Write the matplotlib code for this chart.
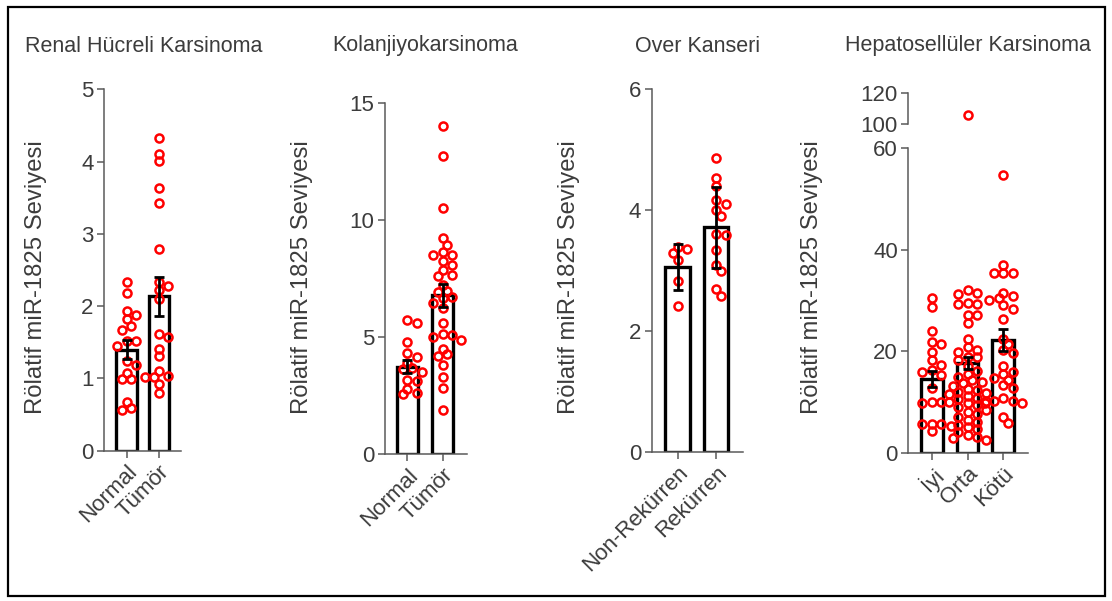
import matplotlib
matplotlib.use("Agg")
import matplotlib.pyplot as plt
import numpy as np
from matplotlib.patches import Rectangle
from matplotlib.ticker import FixedLocator

plt.rcParams['font.family'] = ['Liberation Sans', 'DejaVu Sans']

# --- veri ---
titles = ["Renal Hücreli Karsinoma", "Kolanjiyokarsinoma", "Over Kanseri", "Hepatosellüler Karsinoma"]
ylabel = "Rölatif miR-1825 Seviyesi"

renal_groups = ["Normal", "Tümör"]
renal_normal = [2.33, 2.18, 1.93, 1.88, 1.82, 1.73, 1.67, 1.52, 1.52, 1.45, 1.24, 1.18,
                1.08, 0.99, 0.99, 0.68, 0.56, 0.59]
renal_tumor = [4.33, 4.11, 4.01, 3.63, 3.43, 2.79, 2.34, 2.28, 2.23, 2.10, 1.62, 1.57,
               1.41, 1.31, 1.02, 1.04, 1.10, 1.02, 0.92, 0.80]
renal_mean = [1.40, 2.14]
renal_sem = [0.13, 0.27]

kolan_groups = ["Normal", "Tümör"]
kolan_normal = [5.63, 5.73, 4.79, 4.32, 4.15, 3.92, 3.68, 3.50, 3.65, 3.15, 3.18, 2.79, 2.56, 2.64]
kolan_tumor = [14.03, 12.75, 10.54, 9.23, 8.95, 8.52, 8.66, 8.50, 8.28, 8.09, 7.88, 7.66, 7.62,
               7.24, 6.98, 6.95, 6.74, 6.67, 6.45, 6.24, 5.60, 5.00, 4.89, 5.10, 5.14, 4.50,
               4.27, 4.20, 3.82, 3.32, 2.82, 1.89]
kolan_mean = [3.75, 6.80]
kolan_sem = [0.27, 0.50]

over_groups = ["Non-Rekürren", "Rekürren"]
over_non = [3.29, 3.36, 3.39, 3.17, 2.83, 2.41]
over_rek = [4.85, 4.52, 4.40, 4.17, 4.09, 4.00, 3.90, 3.60, 3.58, 3.34, 3.08, 2.99, 2.69, 2.58]
over_mean = [3.05, 3.71]
over_sem = [0.38, 0.67]

hcc_groups = ["İyi", "Orta", "Kötü"]
hcc_iyi = [30.4, 28.7, 23.9, 21.8, 21.4, 19.9, 18.3, 17.3, 16.3, 16.0, 15.3, 12.7, 9.9, 9.7,
           9.9, 5.3, 5.7, 5.7, 5.7, 4.3]
hcc_orta = [106.0, 32.1, 31.3, 31.4, 29.4, 29.6, 29.4, 27.1, 27.1, 25.5, 22.4, 20.8, 20.2, 19.9,
            18.8, 18.8, 18.3, 17.0, 16.2, 15.5, 15.0, 14.4, 14.0, 13.8, 13.2, 12.6, 12.3, 12.0,
            11.8, 11.5, 11.2, 10.8, 10.5, 10.2, 10.0, 9.8, 9.4, 9.0, 8.5, 8.0, 7.6, 7.0, 6.5,
            6.0, 5.5, 5.0, 4.6, 4.0, 3.5, 3.0, 2.8, 2.5]
hcc_kotu = [54.7, 36.9, 35.4, 35.4, 35.5, 31.5, 30.8, 30.4, 30.1, 29.1, 28.3, 26.3, 22.5, 21.4,
            20.2, 19.6, 17.0, 16.0, 15.6, 14.7, 14.4, 13.3, 12.7, 10.1, 10.7, 9.7, 9.7, 10.1,
            7.1, 5.8]
hcc_mean = [14.6, 17.6, 22.2]
hcc_sem = [1.6, 1.2, 2.1]

# --- stil ---
W, H = 1112, 601
fig = plt.figure(figsize=(W / 100, H / 100), dpi=100)
gray = "#5a5a5a"
txt = "#3c3c3c"
tick_fs = 16
lab_fs = 17.2
title_fs = 15.5
ms, mew = 5.8, 1.8


def px_axes(left, right, top, bottom):
    return fig.add_axes([left / W, 1 - bottom / H, (right - left) / W, (bottom - top) / H])


def style(ax):
    for s in ["top", "right"]:
        ax.spines[s].set_visible(False)
    for s in ["left", "bottom"]:
        ax.spines[s].set_color(gray)
        ax.spines[s].set_linewidth(1.1)
    ax.tick_params(colors=gray, labelcolor=txt, labelsize=tick_fs, length=5, width=1.1, pad=2.5)


def swarm(ax, xc, vals, d=9.4):
    # nokta cakismasini onlemek icin yatay kaydirma (piksel cinsinden)
    t = ax.transData
    x0 = t.transform((xc, 0))[0]
    pxu = t.transform((xc + 1, 0))[0] - x0
    ys = [t.transform((0, v))[1] for v in vals]
    order = np.argsort(ys)[::-1]
    placed = []
    xs = np.zeros(len(vals))
    step = d / 2
    for i in order:
        y = ys[i]
        k = 0
        while True:
            off = ((k + 1) // 2) * step * (1 if k % 2 == 1 else -1)
            if all((off - a) ** 2 + (y - b) ** 2 >= (0.75 * d) ** 2 for a, b in placed):
                break
            k += 1
        placed.append((off, y))
        xs[i] = xc + off / pxu
    return xs


def draw_panel(ax, groups, data, means, sems, barw):
    x = np.arange(len(groups))
    ax.bar(x, means, width=barw, color="white", edgecolor="black", linewidth=2.4, zorder=2)
    for i, vals in enumerate(data):
        xs = swarm(ax, i, vals)
        ax.plot(xs, vals, "o", mfc="none", mec="#ff0000", ms=ms, mew=mew, zorder=3, clip_on=False)
    ax.errorbar(x, means, yerr=sems, fmt="none", ecolor="black", elinewidth=2.0,
                capsize=3.8, capthick=2.0, zorder=4)
    ax.set_xticks(x)
    ax.set_xticklabels(groups, rotation=45, ha="right", va="top", rotation_mode="anchor")


# Panel 1
ax1 = px_axes(104, 181, 89.3, 450.7)
ax1.set_xlim(-0.70, 1.68)
ax1.set_ylim(0, 5)
ax1.set_yticks([0, 1, 2, 3, 4, 5])
style(ax1)
draw_panel(ax1, renal_groups, [renal_normal, renal_tumor], renal_mean, renal_sem, 0.64)

# Panel 2
ax2 = px_axes(385, 466.7, 103.4, 454.3)
ax2.set_xlim(-0.64, 1.69)
ax2.set_ylim(0, 15)
ax2.set_yticks([0, 5, 10, 15])
style(ax2)
draw_panel(ax2, kolan_groups, [kolan_normal, kolan_tumor], kolan_mean, kolan_sem, 0.58)

# Panel 3
ax3 = px_axes(651.7, 742.7, 88.9, 451.7)
ax3.set_xlim(-0.665, 1.68)
ax3.set_ylim(0, 6)
ax3.set_yticks([0, 2, 4, 6])
style(ax3)
draw_panel(ax3, over_groups, [over_non, over_rek], over_mean, over_sem, 0.62)

# Panel 4 (kirik eksen)
ax4 = px_axes(908.3, 1027.7, 148.3, 452.7)
ax4.set_xlim(-0.654, 2.68)
ax4.set_ylim(0, 60)
ax4.set_yticks([0, 20, 40, 60])
style(ax4)
ax4.yaxis.set_minor_locator(FixedLocator([60]))
ax4.tick_params(axis="y", which="minor", direction="inout", length=10, width=1.1, color=gray)

ax4u = px_axes(908.3, 1027.7, 92.7, 124.3)
ax4u.set_xlim(-0.654, 2.68)
ax4u.set_ylim(100, 120)
ax4u.set_yticks([100, 120])
style(ax4u)
ax4u.spines["bottom"].set_visible(False)
ax4u.set_xticks([])
ax4u.patch.set_alpha(0)
ax4u.yaxis.set_minor_locator(FixedLocator([100]))
ax4u.tick_params(axis="y", which="minor", direction="inout", length=10, width=1.1, color=gray)

hcc_data = [hcc_iyi, hcc_orta, hcc_kotu]
low = [[v for v in g if v <= 60] for g in hcc_data]
high = [[v for v in g if v > 60] for g in hcc_data]
draw_panel(ax4, hcc_groups, low, hcc_mean, hcc_sem, 0.61)
for i, vals in enumerate(high):
    if vals:
        ax4u.plot(swarm(ax4u, i, vals), vals, "o", mfc="none", mec="#ff0000", ms=ms, mew=mew,
                  zorder=3, clip_on=False)

# basliklar ve eksen etiketleri
title_x = [144, 425.5, 697.5, 967.5]
for tx, t in zip(title_x, titles):
    fig.text(tx / W, 1 - 51.5 / H, t, ha="center", va="baseline", fontsize=title_fs, color=txt)

ylab_x = [36, 302, 569, 812]
for lx in ylab_x:
    fig.text(lx / W, 1 - 277 / H, ylabel, rotation=90, ha="center", va="center",
             fontsize=lab_fs, color=txt)

# dis cerceve
fig.patches.append(Rectangle((8 / W, 1 - 596 / H), (1105 - 8) / W, (596 - 7) / H,
                             transform=fig.transFigure, fill=False, edgecolor="black",
                             linewidth=1.6))

fig.savefig("out.png", dpi=100, facecolor="white")
